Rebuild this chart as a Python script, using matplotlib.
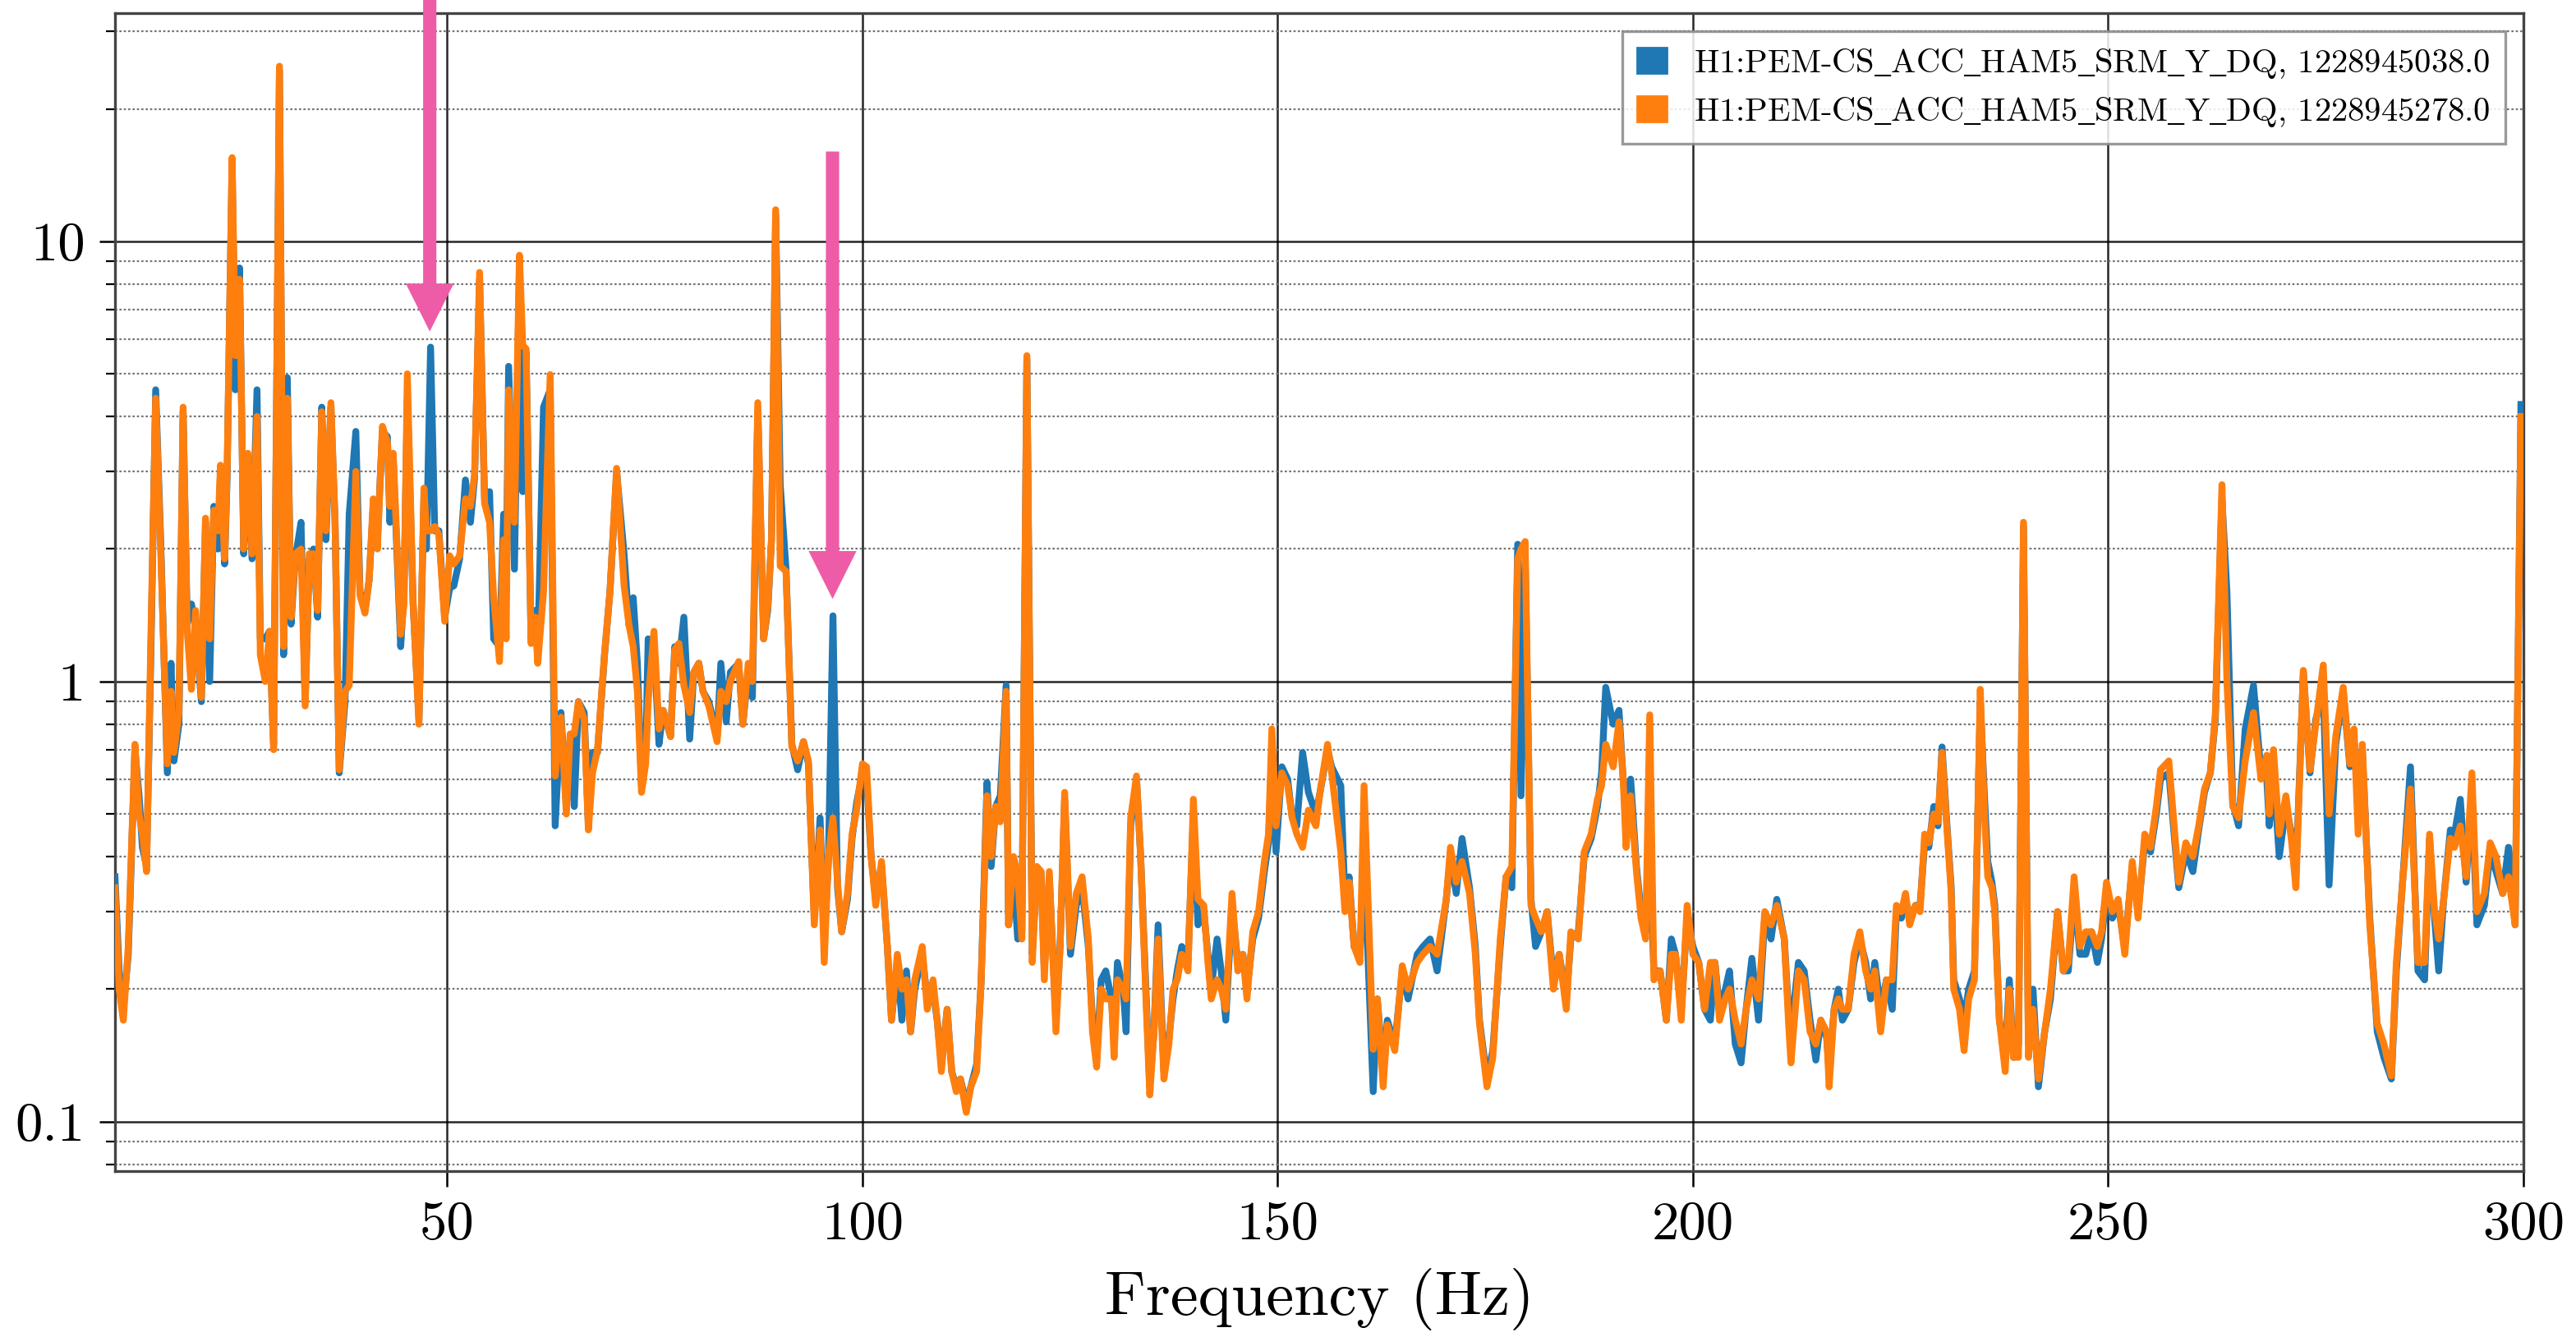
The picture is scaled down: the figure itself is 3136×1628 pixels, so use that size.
import matplotlib
matplotlib.use("Agg")
import matplotlib.pyplot as plt
from matplotlib.patches import Patch
from matplotlib.ticker import FixedLocator, FixedFormatter, NullFormatter, NullLocator
import numpy as np

# ---------------- data ----------------
freq = [10.0, 10.5, 11.0, 11.6, 12.4, 12.9, 13.3, 13.8, 14.3, 14.9, 15.5, 16.3, 16.75, 17.1, 17.7,
        18.2, 18.7, 19.2, 19.7, 20.4, 20.9, 21.4, 21.9, 22.4, 22.7, 23.2, 23.5, 24.1, 24.5, 25.0,
        25.5, 26.0, 26.5, 27.1, 27.5, 28.1, 28.6, 29.1, 29.8, 30.3, 30.75, 31.2, 31.7, 32.4, 32.9,
        33.4, 33.9, 34.4, 34.9, 35.4, 36.0, 36.5, 37.0, 37.7, 38.2, 39.0, 39.5, 40.1, 40.6, 41.1,
        41.6, 42.2, 42.8, 43.1, 43.5, 44.4, 44.8, 45.2, 45.9, 46.6, 47.2, 47.5, 48.0, 48.5, 49.0,
        49.7, 50.3, 50.8, 51.5, 52.2, 52.8, 53.3, 53.9, 54.5, 55.1, 55.6, 56.3, 56.8, 57.1, 57.4,
        58.1, 58.7, 59.1, 59.5, 60.1, 60.6, 60.9, 61.6, 62.4, 63.0, 63.7, 64.35, 64.8, 65.3, 65.8,
        66.5, 67.0, 67.5, 68.1, 68.95, 69.6, 70.4, 71.3, 71.9, 72.4, 72.9, 73.4, 73.9, 74.2, 74.9,
        75.5, 76.0, 76.9, 77.4, 77.9, 78.5, 79.2, 79.7, 80.3, 80.8, 81.5, 82.5, 82.95, 83.6, 84.1,
        85.1, 85.6, 86.25, 86.75, 87.4, 88.1, 88.6, 89.05, 89.55, 90.1, 90.8, 91.5, 92.2, 92.9, 93.5,
        94.2, 94.9, 95.4, 95.9, 96.45, 97.0, 97.5, 98.2, 98.75, 99.3, 100.0, 100.5, 101.05, 101.6, 102.3,
        103.0, 103.5, 104.2, 104.75, 105.3, 105.8, 106.3, 107.2, 107.8, 108.5, 109.0, 109.5, 110.2, 110.75, 111.3,
        111.8, 112.5, 113.05, 113.75, 114.3, 115.0, 115.5, 116.05, 116.6, 117.3, 117.6, 118.2, 118.7, 119.2, 119.8,
        120.45, 121.0, 121.5, 121.9, 122.5, 123.3, 123.8, 124.35, 125.05, 125.75, 126.45, 127.2, 127.7, 128.2, 128.75,
        129.3, 130.0, 130.3, 130.7, 131.4, 131.75, 132.3, 133.0, 133.5, 134.05, 134.6, 135.1, 135.6, 136.3, 136.9,
        137.4, 137.9, 138.45, 139.2, 139.85, 140.4, 141.1, 141.6, 142.0, 142.7, 143.2, 143.75, 144.5, 145.2, 145.8,
        146.3, 147.0, 147.7, 148.4, 148.9, 149.3, 149.8, 150.5, 151.2, 151.75, 152.3, 153.0, 153.7, 154.6, 155.1,
        156.0, 156.5, 157.6, 158.1, 158.6, 159.2, 159.9, 160.4, 161.5, 162.0, 162.7, 163.2, 164.1, 165.0, 165.7,
        166.8, 167.5, 168.35, 169.2, 170.3, 170.8, 171.5, 172.2, 173.1, 173.8, 174.3, 175.2, 175.9, 176.8, 177.5,
        178.2, 178.9, 179.3, 179.8, 180.5, 181.05, 181.75, 182.45, 183.2, 183.9, 184.75, 185.3, 186.2, 186.9, 187.75,
        188.5, 189.0, 189.5, 190.4, 191.1, 191.6, 191.95, 192.5, 193.2, 193.75, 194.3, 194.8, 195.3, 196.05, 196.8,
        197.4, 197.9, 198.6, 199.3, 200.0, 200.7, 201.4, 202.1, 202.65, 203.2, 203.9, 204.4, 205.1, 205.8, 206.4,
        207.1, 207.9, 208.65, 209.4, 210.1, 211.0, 211.5, 211.8, 212.7, 213.4, 214.1, 214.8, 215.4, 216.1, 216.4,
        217.0, 217.5, 218.0, 218.7, 219.4, 220.1, 220.8, 221.4, 221.9, 222.6, 223.3, 224.0, 224.5, 225.1, 225.6,
        226.1, 226.8, 227.35, 227.9, 228.4, 229.0, 229.5, 230.0, 230.5, 231.1, 231.4, 232.1, 232.65, 233.2, 233.9,
        234.6, 235.1, 235.5, 236.0, 236.35, 236.9, 237.6, 238.1, 238.6, 239.2, 239.8, 240.4, 240.95, 241.6, 242.35,
        243.05, 243.9, 244.6, 245.2, 245.9, 246.6, 247.3, 248.0, 248.7, 249.2, 249.8, 250.5, 251.2, 252.0, 252.9,
        253.6, 254.4, 255.1, 255.8, 256.3, 257.3, 258.5, 259.35, 260.2, 260.9, 261.6, 262.3, 262.9, 263.7, 264.3,
        265.0, 265.7, 266.5, 267.5, 268.4, 269.1, 269.4, 269.9, 270.6, 271.4, 272.1, 272.6, 273.5, 274.3, 275.0,
        275.9, 276.6, 277.4, 278.3, 279.1, 279.6, 280.1, 280.6, 281.5, 282.4, 283.2, 284.1, 284.7, 285.4, 286.4,
        287.3, 288.1, 288.7, 289.3, 289.8, 290.4, 291.2, 291.7, 292.4, 293.1, 293.8, 294.4, 295.3, 296.0, 296.7,
        297.5, 298.2, 299.0, 299.7]

asd_1228945278 = [0.34, 0.20, 0.17, 0.25, 0.72, 0.50, 0.45, 0.37, 1.2, 4.4, 2.0, 0.65, 0.95, 0.69, 0.85,
        4.2, 1.3, 0.96, 1.45, 0.92, 2.35, 1.25, 2.45, 2.2, 3.1, 1.9, 3.0, 15.5, 5.5, 8.2,
        2.0, 3.3, 1.95, 4.0, 1.15, 1.0, 1.3, 0.70, 25.0, 1.2, 4.4, 1.4, 1.95, 2.0, 0.88,
        1.95, 1.95, 1.45, 4.1, 2.2, 4.3, 2.3, 0.63, 0.95, 0.98, 3.0, 1.57, 1.43, 1.7, 2.6,
        2.0, 3.8, 3.5, 2.5, 3.3, 1.28, 1.5, 5.0, 1.5, 0.8, 2.75, 2.2, 2.2, 2.25, 2.15,
        1.37, 1.93, 1.85, 1.93, 2.6, 2.5, 2.95, 8.5, 2.54, 2.3, 1.55, 1.11, 2.1, 1.25, 4.6,
        2.3, 9.3, 5.8, 5.7, 1.22, 1.4, 1.1, 1.6, 4.98, 0.61, 0.83, 0.50, 0.76, 0.76, 0.9,
        0.82, 0.46, 0.62, 0.70, 1.16, 1.6, 3.05, 1.65, 1.34, 1.2, 0.95, 0.56, 0.65, 0.9, 1.3,
        0.78, 0.86, 0.75, 1.18, 1.22, 0.98, 0.85, 1.05, 1.1, 0.95, 0.88, 0.73, 0.95, 0.9, 1.0,
        1.11, 0.8, 1.1, 1.0, 4.3, 1.25, 1.48, 2.1, 11.8, 1.83, 1.78, 0.71, 0.66, 0.73, 0.66,
        0.28, 0.46, 0.23, 0.40, 0.49, 0.35, 0.27, 0.33, 0.45, 0.51, 0.65, 0.64, 0.40, 0.31, 0.39,
        0.25, 0.17, 0.24, 0.20, 0.21, 0.16, 0.21, 0.25, 0.18, 0.21, 0.17, 0.13, 0.18, 0.13, 0.117,
        0.125, 0.105, 0.12, 0.13, 0.21, 0.55, 0.40, 0.52, 0.48, 0.95, 0.28, 0.40, 0.36, 0.26, 5.5,
        0.23, 0.38, 0.37, 0.21, 0.37, 0.16, 0.25, 0.56, 0.25, 0.33, 0.36, 0.26, 0.16, 0.133, 0.20,
        0.19, 0.19, 0.14, 0.21, 0.20, 0.19, 0.49, 0.61, 0.40, 0.21, 0.115, 0.16, 0.26, 0.125, 0.15,
        0.20, 0.21, 0.24, 0.22, 0.54, 0.32, 0.31, 0.23, 0.19, 0.21, 0.20, 0.18, 0.33, 0.22, 0.24,
        0.19, 0.27, 0.30, 0.39, 0.45, 0.78, 0.47, 0.62, 0.58, 0.49, 0.45, 0.42, 0.51, 0.47, 0.56,
        0.72, 0.62, 0.41, 0.30, 0.35, 0.25, 0.23, 0.58, 0.146, 0.19, 0.12, 0.166, 0.145, 0.226, 0.20,
        0.23, 0.24, 0.25, 0.24, 0.32, 0.42, 0.35, 0.39, 0.33, 0.24, 0.167, 0.12, 0.14, 0.26, 0.36,
        0.38, 1.9, 2.0, 2.08, 0.31, 0.29, 0.27, 0.30, 0.20, 0.24, 0.18, 0.27, 0.26, 0.41, 0.45,
        0.54, 0.58, 0.72, 0.64, 0.81, 0.60, 0.42, 0.55, 0.37, 0.29, 0.26, 0.84, 0.21, 0.22, 0.17,
        0.24, 0.24, 0.17, 0.31, 0.24, 0.23, 0.18, 0.23, 0.23, 0.17, 0.19, 0.20, 0.17, 0.15, 0.18,
        0.21, 0.19, 0.30, 0.28, 0.31, 0.26, 0.17, 0.136, 0.22, 0.21, 0.16, 0.15, 0.17, 0.16, 0.12,
        0.18, 0.19, 0.18, 0.18, 0.24, 0.27, 0.22, 0.20, 0.22, 0.16, 0.21, 0.21, 0.31, 0.30, 0.33,
        0.28, 0.31, 0.30, 0.45, 0.43, 0.50, 0.48, 0.69, 0.49, 0.33, 0.20, 0.18, 0.145, 0.19, 0.21,
        0.96, 0.50, 0.36, 0.34, 0.30, 0.17, 0.13, 0.20, 0.14, 0.14, 2.3, 0.14, 0.18, 0.125, 0.16,
        0.20, 0.30, 0.22, 0.23, 0.36, 0.25, 0.27, 0.27, 0.25, 0.27, 0.35, 0.30, 0.32, 0.24, 0.39,
        0.29, 0.45, 0.42, 0.52, 0.63, 0.66, 0.35, 0.43, 0.40, 0.47, 0.57, 0.62, 0.84, 2.8, 1.0,
        0.52, 0.49, 0.66, 0.85, 0.60, 0.68, 0.50, 0.70, 0.45, 0.55, 0.43, 0.34, 1.06, 0.63, 0.80,
        1.09, 0.50, 0.75, 0.97, 0.65, 0.78, 0.45, 0.72, 0.28, 0.167, 0.15, 0.127, 0.23, 0.34, 0.57,
        0.23, 0.23, 0.45, 0.30, 0.26, 0.32, 0.44, 0.42, 0.47, 0.36, 0.62, 0.30, 0.33, 0.43, 0.40,
        0.33, 0.36, 0.28, 4.0]

asd_1228945038 = [0.36, 0.22, 0.18, 0.24, 0.70, 0.55, 0.42, 0.38, 1.1, 4.6, 2.1, 0.62, 1.1, 0.66, 0.80,
        4.1, 1.35, 1.5, 1.35, 0.90, 2.3, 1.0, 2.5, 2.0, 3.0, 1.85, 2.9, 15.2, 4.6, 8.7,
        1.95, 3.2, 1.9, 4.6, 1.25, 1.25, 1.3, 0.72, 24.5, 1.15, 4.9, 1.35, 1.9, 2.3, 0.9,
        1.9, 2.0, 1.4, 4.2, 2.1, 4.2, 2.3, 0.62, 0.9, 2.4, 3.7, 1.6, 1.45, 1.7, 2.5,
        2.1, 3.7, 3.6, 2.3, 3.2, 1.2, 1.6, 4.4, 1.5, 0.82, 2.6, 2.0, 5.75, 2.2, 2.2,
        1.4, 1.63, 1.65, 1.9, 2.87, 2.3, 2.9, 8.2, 2.6, 2.7, 1.25, 1.2, 2.4, 1.6, 5.2,
        1.8, 8.8, 2.7, 5.6, 1.25, 1.45, 1.15, 4.2, 4.6, 0.47, 0.85, 0.52, 0.74, 0.52, 0.9,
        0.85, 0.47, 0.69, 0.69, 1.15, 1.6, 3.0, 1.95, 1.34, 1.55, 1.1, 0.58, 0.68, 1.25, 1.2,
        0.72, 0.86, 0.75, 1.2, 1.1, 1.4, 0.74, 1.05, 1.1, 0.95, 0.9, 0.75, 1.1, 0.81, 1.05,
        1.1, 0.8, 1.05, 0.92, 4.1, 1.25, 1.45, 2.1, 11.5, 2.8, 1.8, 0.72, 0.63, 0.73, 0.65,
        0.29, 0.49, 0.26, 0.39, 1.41, 0.34, 0.27, 0.32, 0.44, 0.53, 0.62, 0.60, 0.40, 0.32, 0.38,
        0.25, 0.17, 0.23, 0.17, 0.22, 0.16, 0.20, 0.24, 0.19, 0.20, 0.17, 0.135, 0.18, 0.13, 0.12,
        0.125, 0.11, 0.12, 0.135, 0.21, 0.59, 0.38, 0.52, 0.55, 0.98, 0.28, 0.36, 0.26, 0.27, 5.4,
        0.24, 0.37, 0.37, 0.22, 0.36, 0.17, 0.25, 0.54, 0.24, 0.31, 0.34, 0.25, 0.17, 0.14, 0.21,
        0.22, 0.19, 0.15, 0.23, 0.20, 0.16, 0.47, 0.60, 0.40, 0.22, 0.12, 0.16, 0.28, 0.13, 0.155,
        0.19, 0.22, 0.25, 0.23, 0.50, 0.28, 0.30, 0.24, 0.20, 0.26, 0.22, 0.17, 0.31, 0.23, 0.24,
        0.20, 0.26, 0.29, 0.37, 0.43, 0.70, 0.41, 0.64, 0.60, 0.49, 0.47, 0.69, 0.56, 0.50, 0.56,
        0.70, 0.64, 0.58, 0.32, 0.36, 0.25, 0.24, 0.40, 0.117, 0.19, 0.13, 0.17, 0.15, 0.22, 0.19,
        0.24, 0.25, 0.26, 0.22, 0.32, 0.40, 0.33, 0.44, 0.34, 0.25, 0.17, 0.125, 0.145, 0.25, 0.36,
        0.34, 2.05, 0.55, 1.9, 0.32, 0.25, 0.27, 0.30, 0.21, 0.24, 0.19, 0.26, 0.27, 0.40, 0.44,
        0.52, 0.62, 0.97, 0.80, 0.86, 0.60, 0.50, 0.60, 0.38, 0.30, 0.27, 0.40, 0.22, 0.22, 0.17,
        0.26, 0.24, 0.18, 0.29, 0.25, 0.23, 0.18, 0.17, 0.23, 0.18, 0.20, 0.22, 0.15, 0.136, 0.18,
        0.235, 0.17, 0.29, 0.26, 0.32, 0.26, 0.18, 0.16, 0.23, 0.22, 0.17, 0.138, 0.17, 0.155, 0.13,
        0.18, 0.20, 0.17, 0.18, 0.23, 0.26, 0.23, 0.19, 0.23, 0.18, 0.21, 0.18, 0.30, 0.29, 0.32,
        0.29, 0.31, 0.31, 0.43, 0.42, 0.52, 0.47, 0.71, 0.50, 0.34, 0.21, 0.19, 0.17, 0.20, 0.22,
        0.90, 0.55, 0.39, 0.35, 0.31, 0.17, 0.14, 0.21, 0.14, 0.15, 2.25, 0.15, 0.20, 0.12, 0.16,
        0.19, 0.30, 0.22, 0.22, 0.33, 0.24, 0.24, 0.27, 0.23, 0.26, 0.33, 0.29, 0.31, 0.25, 0.38,
        0.30, 0.43, 0.41, 0.50, 0.60, 0.62, 0.34, 0.41, 0.37, 0.46, 0.56, 0.62, 0.82, 2.6, 1.6,
        0.53, 0.47, 0.78, 0.98, 0.62, 0.60, 0.47, 0.62, 0.40, 0.52, 0.45, 0.36, 1.05, 0.62, 0.82,
        0.95, 0.345, 0.72, 0.95, 0.64, 0.74, 0.52, 0.70, 0.29, 0.16, 0.14, 0.125, 0.22, 0.34, 0.64,
        0.22, 0.21, 0.44, 0.29, 0.22, 0.32, 0.46, 0.45, 0.54, 0.35, 0.55, 0.28, 0.31, 0.41, 0.37,
        0.33, 0.42, 0.28, 4.26]

label_a = r"H1:PEM-CS$\_$ACC$\_$HAM5$\_$SRM$\_$Y$\_$DQ, 1228945038.0"
label_b = r"H1:PEM-CS$\_$ACC$\_$HAM5$\_$SRM$\_$Y$\_$DQ, 1228945278.0"
x_label = "Frequency (Hz)"
y_tick_values = [0.1, 1, 10]
y_tick_labels = ["0.1", "1", "10"]
x_tick_values = [50, 100, 150, 200, 250, 300]
x_tick_labels = ["50", "100", "150", "200", "250", "300"]
arrow_freqs = [47.9, 96.4]

# ---------------- style ----------------
plt.rcParams['font.family'] = ['cmr10', 'DejaVu Serif']
plt.rcParams['mathtext.fontset'] = 'stix'
plt.rcParams['axes.unicode_minus'] = False

fig = plt.figure(figsize=(15.68, 8.14), dpi=200)
ax = fig.add_axes([0.04464, 0.12408, 0.93495, 0.86609])

blue = '#1f77b4'
orange = '#ff7f0e'
ax.plot(freq, asd_1228945038, color=blue, lw=3.0, zorder=3)
ax.plot(freq, asd_1228945278, color=orange, lw=3.0, zorder=4)

ax.set_yscale('log')
ax.set_xlim(10, 300)
ax.set_ylim(0.0772, 33.0)

ax.xaxis.set_major_locator(FixedLocator(x_tick_values))
ax.xaxis.set_major_formatter(FixedFormatter(x_tick_labels))
ax.xaxis.set_minor_locator(NullLocator())
ax.yaxis.set_major_locator(FixedLocator(y_tick_values))
ax.yaxis.set_major_formatter(FixedFormatter(y_tick_labels))
minor_y = [v * m for v in [0.01, 0.1, 1, 10] for m in range(2, 10)]
ax.yaxis.set_minor_locator(FixedLocator(minor_y))
ax.yaxis.set_minor_formatter(NullFormatter())

ax.tick_params(axis='both', which='major', direction='out', length=7, width=0.9,
               labelsize=24, colors='black', pad=6)
ax.tick_params(axis='y', which='minor', direction='out', length=4, width=0.8)
ax.tick_params(top=False, right=False)

ax.grid(True, which='major', axis='both', color='black', lw=0.9, ls='-', alpha=0.85, zorder=1)
ax.grid(True, which='minor', axis='y', color='#777777', lw=0.8, ls=(0, (1.2, 1.2)), zorder=1)
ax.set_axisbelow(True)

for sp in ax.spines.values():
    sp.set_color('#444444')
    sp.set_linewidth(1.2)

ax.set_xlabel(x_label, fontsize=27.5, labelpad=8)

handles = [Patch(facecolor=blue, edgecolor=blue), Patch(facecolor=orange, edgecolor=orange)]
leg = ax.legend(handles, [label_a, label_b], loc='upper right', fontsize=14.6,
                handlelength=0.9, handleheight=0.8, handletextpad=0.8,
                fancybox=False, framealpha=0.85, edgecolor='#888888',
                borderpad=0.45, labelspacing=0.45, borderaxespad=0.55)
leg.get_frame().set_linewidth(1.2)

# ---------------- arrows ----------------
pink = '#EE5BA6'
style = "simple,head_length=21,head_width=21,tail_width=5.8"
ax.annotate('', xy=(arrow_freqs[0], 6.24), xycoords='data',
            xytext=(arrow_freqs[0], 1.0), textcoords=('data', 'figure fraction'),
            arrowprops=dict(arrowstyle=style, color=pink, lw=0, shrinkA=0, shrinkB=0,
                            mutation_scale=1),
            annotation_clip=False, zorder=6)
ax.annotate('', xy=(arrow_freqs[1], 1.54), xycoords='data',
            xytext=(arrow_freqs[1], 16.0), textcoords='data',
            arrowprops=dict(arrowstyle=style, color=pink, lw=0, shrinkA=0, shrinkB=0,
                            mutation_scale=1),
            annotation_clip=False, zorder=6)

fig.savefig('out.png', dpi=200)
